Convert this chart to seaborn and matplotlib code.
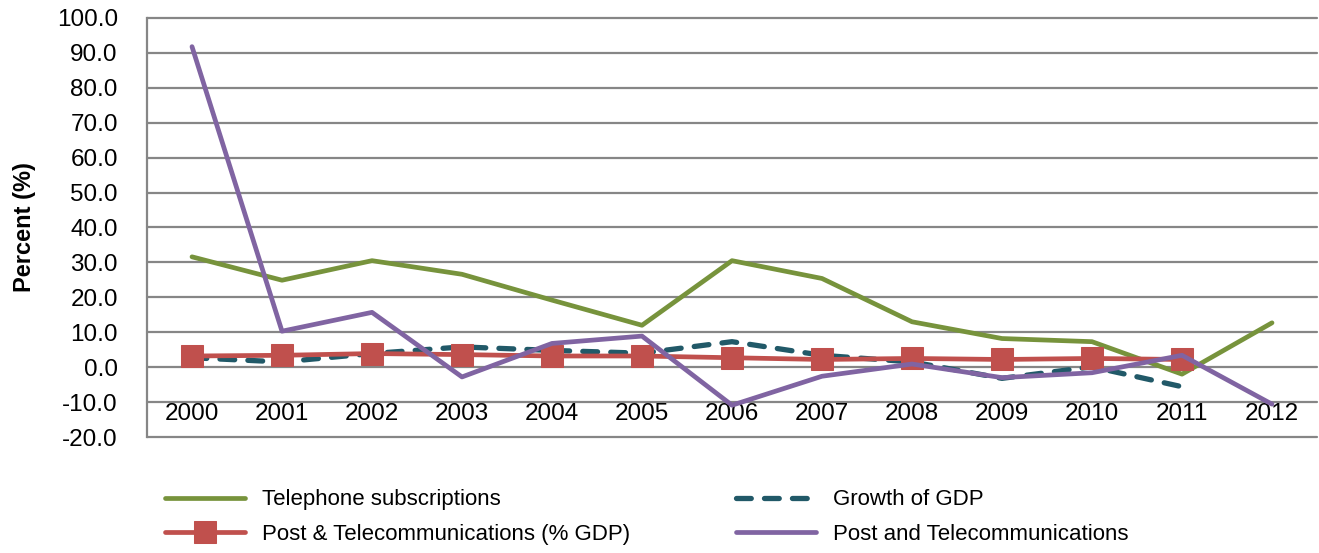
import numpy as np
import pandas as pd
import matplotlib
matplotlib.use("Agg")
import matplotlib.pyplot as plt
import seaborn as sns

years = ["2000", "2001", "2002", "2003", "2004", "2005", "2006",
         "2007", "2008", "2009", "2010", "2011", "2012"]
telephone = [31.6, 24.9, 30.5, 26.6, 19.2, 12.0, 30.5, 25.4, 13.0, 8.2, 7.3, -2.0, 12.7]
gdp_growth = [2.7, 1.5, 3.9, 5.8, 4.8, 4.0, 7.3, 3.4, 1.5, -3.2, 0.1, -5.6, np.nan]
post_gdp = [3.2, 3.4, 3.9, 3.6, 3.2, 3.2, 2.7, 2.2, 2.5, 2.2, 2.5, 2.2, np.nan]
post_tel = [91.8, 10.3, 15.7, -2.8, 6.8, 8.9, -10.9, -2.6, 0.9, -3.0, -1.6, 3.4, -10.6]
yticks = [-20, -10, 0, 10, 20, 30, 40, 50, 60, 70, 80, 90, 100]

sns.set_style("white")
plt.rcParams['font.family'] = ['Liberation Sans', 'DejaVu Sans']
plt.rcParams['text.color'] = 'black'
plt.rcParams['xtick.color'] = 'black'
plt.rcParams['ytick.color'] = 'black'
plt.rcParams['axes.labelcolor'] = 'black'

fig = plt.figure(figsize=(13.19, 5.53), dpi=100)
ax = fig.add_axes([147/1319, 1-437/553, (1317-147)/1319, (437-18)/553])

x = np.arange(len(years))
df = pd.DataFrame({"x": x, "tel": telephone, "gdp": gdp_growth,
                   "pg": post_gdp, "pt": post_tel})

grid_c = "#868686"
for v in yticks:
    ax.axhline(v, color=grid_c, lw=1.6, zorder=0.5, clip_on=False)

sns.lineplot(data=df, x="x", y="tel", ax=ax, color="#77933C", lw=3.4,
             label="Telephone subscriptions")
sns.lineplot(data=df, x="x", y="gdp", ax=ax, color="#215968", lw=3.8,
             label="Growth of GDP", dashes=False)
ax.lines[-1].set_linestyle((0, (2.8, 2.5)))
ax.lines[-1].set_dash_capstyle("round")
sns.lineplot(data=df, x="x", y="pg", ax=ax, color="#C0504D", lw=3.4,
             marker="s", markersize=15.5, markeredgecolor="#C0504D",
             label="Post & Telecommunications (% GDP)")
sns.lineplot(data=df, x="x", y="pt", ax=ax, color="#8064A2", lw=3.4,
             label="Post and Telecommunications")

ax.set_xlim(-0.5, len(years) - 0.5)
ax.set_ylim(-20, 100)
ax.set_yticks(yticks)
ax.set_yticklabels([f"{v:.1f}" for v in yticks])

ax.set_xticks(x)
ax.set_xticklabels(years)
ax.spines['bottom'].set_position(('data', -10))
ax.spines['bottom'].set_visible(False)
ax.tick_params(axis='x', length=0, pad=1, labelsize=17.5, labelcolor='black')
ax.tick_params(axis='y', length=0, pad=21, labelsize=17.5, labelcolor='black')
for s in ['top', 'right']:
    ax.spines[s].set_visible(False)
ax.spines['left'].set_color(grid_c)
ax.spines['left'].set_linewidth(1.6)
ax.set_xlabel("")
ax.set_ylabel("Percent (%)", fontsize=17, fontweight="bold", labelpad=15,
              color='black')

handles, labels = ax.get_legend_handles_labels()
ax.get_legend().remove()
order = [0, 2, 1, 3]
leg = fig.legend([handles[i] for i in order], [labels[i] for i in order],
                 loc="center left", bbox_to_anchor=(165/1319, 1-517/553), ncol=2,
                 frameon=False, fontsize=16, handlelength=3.6, columnspacing=4.8,
                 labelspacing=0.6, handletextpad=0.75, borderaxespad=0, borderpad=0)
for t in leg.get_texts():
    t.set_color('black')

fig.savefig("out.png", dpi=100)
